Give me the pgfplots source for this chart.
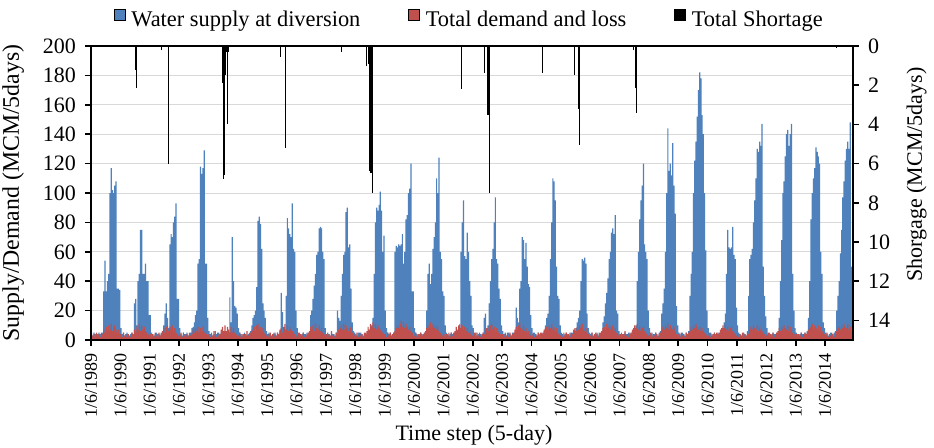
\documentclass[border=0pt]{standalone}
\usepackage{fontspec}
\setmainfont{Liberation Serif}
\usepackage{pgfplots}
\pgfplotsset{compat=1.18}
\definecolor{supblue}{HTML}{4F81BD}
\definecolor{demred}{HTML}{C0504D}
\definecolor{gridgray}{HTML}{D9D9D9}
\begin{document}
\begin{tikzpicture}
\begin{axis}[
  name=main, at={(0,0)}, anchor=south west,
  scale only axis, width=381pt, height=147pt,
  xmin=0, xmax=25.95, ymin=0, ymax=200,
  xtick={0,1,...,25},
  xticklabels={1/6/1989,1/6/1990,1/6/1991,1/6/1992,1/6/1993,1/6/1994,1/6/1995,1/6/1996,1/6/1997,1/6/1998,1/6/1999,1/6/2000,1/6/2001,1/6/2002,1/6/2003,1/6/2004,1/6/2005,1/6/2006,1/6/2007,1/6/2008,1/6/2009,1/6/2010,1/6/2011,1/6/2012,1/6/2013,1/6/2014},
  ytick={0,20,...,200},
  xtick pos=bottom, ytick pos=left, tick align=outside,
  major tick length=3pt,
  ymajorgrids, grid style={gridgray, line width=0.5pt},
  axis line style={black, line width=0.8pt},
  every tick/.style={black, line width=0.8pt},
  /pgf/number format/assume math mode=true,
  yticklabel style={font=\fontsize{11}{12}\selectfont, xshift=-1pt},
  xticklabel style={font=\fontsize{9}{10}\selectfont, rotate=90, anchor=east},
  xlabel={Time step (5-day)},
  xlabel style={font=\fontsize{11}{13}\selectfont, at={(axis description cs:0.5026,-0.3435)}, anchor=base},
  ylabel={Supply/Demand (MCM/5days)},
  ylabel style={font=\fontsize{11.9}{14}\selectfont, at={(axis description cs:-0.102,0.5)}, anchor=center},
  legend columns=3,
  legend style={draw=none, fill=none, at={(axis description cs:0.4966,1.088)}, anchor=center,
    font=\fontsize{11.2}{13}\selectfont, inner sep=0pt, nodes={inner sep=1pt},
    /tikz/every odd column/.append style={column sep=2pt},
    /tikz/every even column/.append style={column sep=23pt}},
  legend image code/.code={\fill[#1] (0pt,0pt) rectangle (5.3pt,5.3pt);},
]
\addlegendimage{fill=supblue}
\addlegendentry{Water supply at diversion}
\addlegendimage{fill=demred}
\addlegendentry{Total demand and loss}
\addlegendimage{fill=black}
\addlegendentry{Total Shortage}
\addplot[const plot, fill=supblue, draw=none, forget plot]
  table[header=false, row sep=\\, x expr=\coordindex/24, y index=0] {
4\\3\\5\\4\\3\\4\\5\\4\\3\\5\\33\\54\\33\\40\\45\\100\\117\\102\\100\\105\\108\\35\\35\\34\\
8\\4\\5\\3\\4\\5\\4\\3\\4\\5\\4\\25\\28\\10\\40\\45\\75\\75\\45\\45\\52\\40\\40\\17\\
17\\5\\4\\3\\4\\5\\4\\4\\3\\5\\4\\10\\18\\25\\15\\8\\65\\72\\70\\80\\84\\93\\28\\28\\
8\\4\\3\\5\\4\\4\\5\\3\\4\\5\\8\\9\\12\\17\\20\\52\\55\\118\\113\\117\\129\\52\\52\\15\\
6\\4\\5\\3\\4\\6\\4\\3\\5\\4\\5\\4\\3\\5\\4\\6\\5\\29\\12\\70\\40\\23\\22\\18\\
8\\5\\4\\3\\4\\5\\4\\3\\4\\5\\6\\10\\15\\17\\20\\36\\81\\84\\79\\62\\25\\20\\15\\6\\
4\\5\\4\\3\\4\\5\\4\\3\\5\\4\\6\\32\\19\\8\\6\\30\\83\\76\\72\\70\\93\\62\\60\\20\\
8\\4\\5\\3\\4\\5\\4\\3\\5\\4\\5\\17\\20\\28\\37\\45\\58\\60\\76\\77\\76\\60\\55\\8\\
4\\5\\4\\3\\5\\4\\4\\3\\5\\20\\15\\13\\30\\45\\58\\60\\87\\90\\63\\65\\35\\12\\6\\5\\
4\\3\\5\\4\\5\\4\\3\\4\\5\\4\\5\\6\\8\\10\\15\\45\\80\\90\\88\\92\\101\\88\\60\\71\\
20\\8\\5\\4\\5\\3\\4\\5\\60\\64\\63\\65\\64\\65\\72\\52\\60\\82\\85\\100\\103\\120\\33\\33\\
8\\5\\4\\3\\4\\5\\4\\3\\5\\4\\20\\45\\52\\38\\45\\62\\70\\80\\110\\100\\124\\60\\55\\33\\
30\\10\\5\\4\\3\\4\\5\\4\\3\\4\\5\\4\\6\\8\\60\\80\\95\\57\\55\\73\\60\\40\\30\\10\\
8\\4\\5\\3\\4\\5\\4\\3\\5\\15\\18\\8\\10\\25\\40\\55\\62\\80\\97\\55\\52\\35\\28\\10\\
6\\4\\5\\3\\4\\5\\4\\3\\5\\4\\5\\22\\15\\12\\35\\40\\70\\68\\55\\66\\50\\38\\36\\17\\
8\\4\\5\\4\\3\\5\\4\\3\\5\\4\\6\\10\\15\\18\\30\\55\\80\\110\\108\\95\\50\\30\\28\\10\\
5\\4\\3\\4\\5\\4\\3\\5\\4\\5\\6\\4\\8\\12\\15\\20\\40\\55\\54\\56\\52\\18\\8\\5\\
4\\5\\3\\4\\5\\4\\3\\5\\4\\5\\12\\16\\25\\32\\42\\55\\60\\73\\76\\72\\85\\20\\18\\6\\
4\\5\\3\\4\\5\\4\\3\\5\\4\\5\\6\\4\\8\\10\\40\\60\\82\\95\\105\\120\\65\\60\\55\\20\\
8\\4\\5\\3\\4\\5\\4\\3\\5\\6\\18\\25\\35\\60\\100\\144\\115\\120\\112\\134\\105\\86\\23\\10\\
5\\4\\3\\5\\4\\3\\5\\4\\6\\30\\45\\60\\100\\122\\135\\152\\170\\182\\178\\153\\140\\100\\61\\20\\
8\\4\\5\\3\\4\\5\\4\\3\\5\\4\\5\\6\\8\\12\\18\\45\\75\\63\\62\\63\\77\\58\\55\\22\\
10\\5\\4\\3\\4\\5\\4\\3\\6\\30\\55\\58\\62\\80\\95\\110\\130\\128\\135\\132\\147\\50\\30\\16\\
8\\4\\5\\3\\4\\5\\4\\3\\5\\4\\15\\40\\68\\100\\108\\125\\140\\143\\132\\140\\147\\45\\20\\8\\
5\\4\\3\\4\\5\\4\\3\\5\\4\\6\\15\\40\\82\\100\\110\\117\\131\\128\\125\\120\\60\\45\\12\\8\\
5\\4\\3\\4\\5\\4\\3\\5\\6\\20\\30\\40\\59\\75\\97\\108\\122\\130\\135\\130\\148\\50\\45\\40\\
} \closedcycle;
\addplot[const plot, fill=demred, draw=none, forget plot]
  table[header=false, row sep=\\, x expr=\coordindex/24, y index=0] {
5\\3\\4\\2\\5\\3\\4\\2\\5\\4\\7\\5\\9\\6\\10\\7\\11\\6\\9\\10\\7\\5\\7\\4\\
4\\2\\5\\3\\4\\2\\4\\3\\2\\5\\4\\7\\5\\9\\7\\11\\6\\10\\7\\9\\6\\5\\4\\3\\
4\\2\\4\\2\\5\\3\\2\\5\\3\\4\\6\\8\\5\\9\\10\\6\\9\\7\\10\\6\\8\\5\\4\\3\\
3\\5\\2\\5\\3\\2\\4\\3\\5\\3\\4\\7\\5\\8\\6\\9\\5\\8\\6\\9\\5\\6\\4\\3\\
4\\2\\4\\3\\6\\3\\2\\5\\3\\4\\7\\9\\6\\10\\6\\9\\7\\5\\9\\5\\8\\5\\4\\3\\
3\\5\\2\\4\\2\\4\\3\\6\\3\\4\\5\\7\\6\\9\\6\\10\\11\\7\\9\\6\\8\\5\\4\\3\\
4\\2\\5\\3\\4\\2\\5\\3\\5\\4\\7\\8\\5\\9\\11\\7\\10\\6\\9\\7\\6\\5\\4\\2\\
3\\5\\2\\4\\3\\5\\2\\4\\3\\5\\6\\9\\7\\10\\6\\11\\8\\7\\10\\6\\8\\5\\4\\3\\
4\\2\\4\\3\\6\\3\\4\\2\\5\\4\\7\\8\\10\\7\\11\\7\\10\\8\\6\\8\\9\\5\\4\\3\\
3\\5\\2\\5\\3\\4\\2\\5\\4\\6\\9\\7\\11\\9\\12\\8\\11\\7\\10\\8\\7\\6\\5\\4\\
4\\2\\5\\3\\5\\3\\4\\5\\6\\8\\10\\8\\11\\13\\9\\12\\8\\11\\9\\7\\9\\6\\5\\3\\
3\\5\\2\\4\\3\\5\\3\\4\\5\\6\\8\\10\\8\\12\\9\\11\\8\\10\\7\\9\\6\\5\\4\\3\\
4\\2\\4\\3\\5\\2\\5\\3\\5\\6\\9\\7\\10\\11\\8\\10\\7\\9\\6\\8\\5\\6\\4\\3\\
3\\5\\2\\5\\3\\4\\2\\4\\5\\4\\7\\8\\6\\9\\10\\11\\7\\9\\6\\8\\6\\5\\4\\3\\
4\\2\\4\\3\\5\\2\\5\\3\\4\\5\\7\\9\\7\\10\\12\\8\\7\\10\\6\\8\\5\\6\\4\\3\\
3\\5\\2\\4\\3\\5\\2\\5\\4\\5\\7\\8\\9\\7\\10\\8\\11\\7\\9\\6\\8\\5\\4\\3\\
4\\2\\5\\3\\5\\3\\4\\2\\5\\4\\7\\8\\6\\9\\7\\10\\8\\11\\7\\6\\8\\5\\4\\3\\
3\\5\\2\\4\\3\\5\\2\\4\\5\\6\\8\\9\\7\\11\\8\\10\\7\\9\\10\\6\\8\\5\\4\\3\\
4\\2\\4\\3\\6\\3\\4\\2\\5\\4\\7\\8\\10\\8\\11\\7\\9\\6\\8\\9\\6\\5\\4\\3\\
3\\5\\2\\4\\3\\5\\4\\2\\4\\5\\7\\9\\7\\10\\8\\11\\7\\10\\8\\7\\9\\6\\4\\3\\
4\\2\\5\\3\\4\\2\\5\\4\\5\\6\\9\\7\\10\\8\\11\\9\\7\\9\\6\\8\\6\\5\\4\\3\\
3\\5\\2\\4\\3\\5\\2\\5\\4\\5\\7\\8\\10\\8\\11\\7\\9\\6\\8\\9\\6\\5\\4\\3\\
4\\2\\4\\3\\5\\2\\4\\3\\5\\4\\7\\9\\7\\10\\8\\7\\10\\6\\9\\7\\6\\5\\4\\3\\
3\\5\\2\\4\\3\\5\\2\\4\\5\\6\\8\\6\\9\\7\\10\\8\\7\\10\\6\\9\\7\\5\\4\\3\\
4\\2\\4\\3\\5\\2\\4\\5\\4\\5\\7\\8\\9\\11\\7\\10\\8\\7\\10\\6\\9\\6\\5\\4\\
3\\5\\2\\4\\3\\5\\4\\2\\5\\6\\8\\9\\7\\10\\8\\11\\9\\8\\11\\7\\9\\6\\5\\4\\
} \closedcycle;
\end{axis}
\begin{axis}[
  at={(0,0)}, anchor=south west,
  scale only axis, width=381pt, height=147pt,
  xmin=0, xmax=25.95, ymin=0, ymax=15, y dir=reverse,
  xtick=\empty, ytick={0,2,...,14},
  ytick pos=right, tick align=outside, major tick length=3pt,
  axis on top,
  axis line style={black, line width=0.8pt},
  every tick/.style={black, line width=0.8pt},
  /pgf/number format/assume math mode=true,
  yticklabel style={font=\fontsize{11}{12}\selectfont, anchor=west, xshift=1pt},
  ylabel={Shorgage (MCM/5days)},
  ylabel style={font=\fontsize{11}{13}\selectfont, at={(axis description cs:1.0836,0.563)}, anchor=center, rotate=0},
]
\addplot[ycomb, black, line width=0.5pt] coordinates {
(1.530,1.2)(1.543,2.16)
(2.394,0.2)
(2.633,1.3)(2.647,6.0)
(4.473,0.3)(4.486,1.9)(4.500,1.9)(4.514,1.8)(4.527,6.8)(4.541,1.9)(4.555,6.6)(4.568,1.5)(4.582,0.3)(4.596,0.3)(4.610,0.3)(4.623,0.3)(4.637,0.3)(4.650,0.3)(4.664,4.0)(4.678,0.3)
(6.437,0.55)(6.610,4.3)(6.623,5.2)(6.637,4.3)
(8.539,0.3)
(9.366,1.0)(9.445,0.9)(9.480,6.3)(9.493,6.4)(9.507,6.5)(9.521,6.3)(9.534,6.2)(9.548,6.5)(9.562,6.1)(9.575,6.4)(9.589,7.5)
(12.602,2.2)
(13.385,1.4)(13.490,3.4)(13.504,3.5)(13.518,3.4)(13.532,3.3)(13.545,3.5)(13.559,7.5)(13.573,2.0)
(15.370,1.4)
(16.470,1.5)(16.598,0.5)(16.612,3.2)(16.625,5.05)(16.639,0.6)
(18.460,0.2)(18.560,2.15)(18.574,3.4)(18.588,2.1)
(25.390,0.1)
};
\end{axis}
\pgfresetboundingbox
\path[use as bounding box] (-45.5pt,-53.5pt) rectangle (421.5pt,170pt);
\end{tikzpicture}
\end{document}
